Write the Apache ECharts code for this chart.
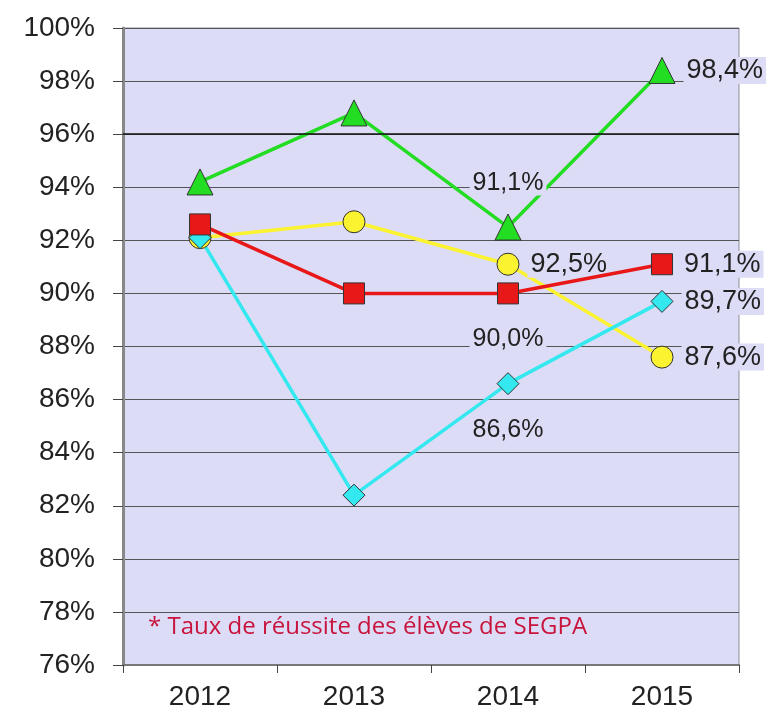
<!DOCTYPE html>
<html>
<head>
<meta charset="utf-8">
<script src="https://cdn.jsdelivr.net/npm/echarts@6/dist/echarts.min.js"></script>
<style>
  html, body { margin: 0; padding: 0; background: #fff; }
  #chart { width: 778px; height: 714px; }
</style>
</head>
<body>
<div id="chart"></div>
<script>
// années
var years = ['2012', '2013', '2014', '2015'];

// valeurs (%)
var vertValues = [94.2, 96.8, 92.5, 98.4];
var jauneValues = [92.1, 92.7, 91.1, 87.6];
var rougeValues = [92.6, 90.0, 90.0, 91.1];
var cyanValues = [92.1, 82.4, 86.6, 89.7];

// étiquettes affichées (telles qu'elles apparaissent)
var vertLabels = [null, null, '91,1%', '98,4%'];
var jauneLabels = [null, null, '92,5%', '87,6%'];
var rougeLabels = [null, null, '90,0%', '91,1%'];
var cyanLabels = [null, null, '86,6%', '89,7%'];

var plotBg = '#dcdcf6';
var txtFont = 'Liberation Sans, Arial, sans-serif';

// construit les points avec leur étiquette
function points(values, labels, where) {
  return values.map(function (v, i) {
    var item = { value: v };
    if (labels[i]) {
      var pos = where[i] || 'right';
      item.label = {
        show: true,
        formatter: labels[i],
        position: pos,
        distance: pos === 'right' ? 8 : (pos === 'top' ? 18 : 22),
        fontSize: pos === 'right' ? 27 : 25,
        color: '#222',
        fontFamily: txtFont,
        backgroundColor: plotBg,
        padding: [0, 3]
      };
    }
    return item;
  });
}

function serie(name, color, symbol, size, data) {
  return {
    name: name,
    type: 'line',
    data: data,
    symbol: symbol,
    symbolSize: size,
    lineStyle: { color: color, width: 3.5 },
    itemStyle: { color: color, borderColor: '#333', borderWidth: 1 },
    label: { show: false },
    animation: false
  };
}

var myChart = echarts.init(document.getElementById('chart'));

var option = {
  backgroundColor: '#fff',
  grid: { left: 123, right: 39, top: 28, bottom: 49, show: true, backgroundColor: plotBg, borderColor: '#8a8a9a', borderWidth: 1 },
  xAxis: {
    type: 'category',
    data: years,
    boundaryGap: true,
    axisLine: { lineStyle: { color: '#777', width: 2 } },
    axisTick: { show: true, length: 8, lineStyle: { color: '#444' } },
    axisLabel: { fontSize: 28, color: '#222', margin: 18, fontFamily: txtFont }
  },
  yAxis: {
    type: 'value',
    min: 76,
    max: 100,
    interval: 2,
    axisLine: { show: true, lineStyle: { color: '#888', width: 3 } },
    axisTick: { show: true, length: 10, lineStyle: { color: '#444' } },
    axisLabel: { formatter: '{value}%', fontSize: 28, color: '#222', margin: 28, fontFamily: txtFont },
    splitLine: { lineStyle: { color: '#555', width: 1 } }
  },
  graphic: [{
    type: 'text',
    left: 148,
    top: 615,
    style: {
      text: '* Taux de réussite des élèves de SEGPA',
      fill: '#c8143c',
      font: '24px "Open Sans", sans-serif'
    }
  }],
  series: [
    serie('jaune', '#fbf230', 'circle', 22, points(jauneValues, jauneLabels, {2: 'right', 3: 'right'})),
    serie('cyan', '#33e8ee', 'diamond', 22, points(cyanValues, cyanLabels, {2: 'bottom', 3: 'right'})),
    Object.assign(serie('vert', '#22dd22', 'triangle', 26, points(vertValues, vertLabels, {2: 'top', 3: 'right'})), {
      markLine: {
        silent: true,
        symbol: 'none',
        label: { show: false },
        lineStyle: { color: '#111', width: 1.5, type: 'solid' },
        data: [{ yAxis: 96 }]
      },
      z: 3
    }),
    Object.assign(serie('rouge', '#e81818', 'rect', 21, points(rougeValues, rougeLabels, {2: 'bottom', 3: 'right'})), { z: 4 })
  ]
};

myChart.setOption(option);
</script>
</body>
</html>
